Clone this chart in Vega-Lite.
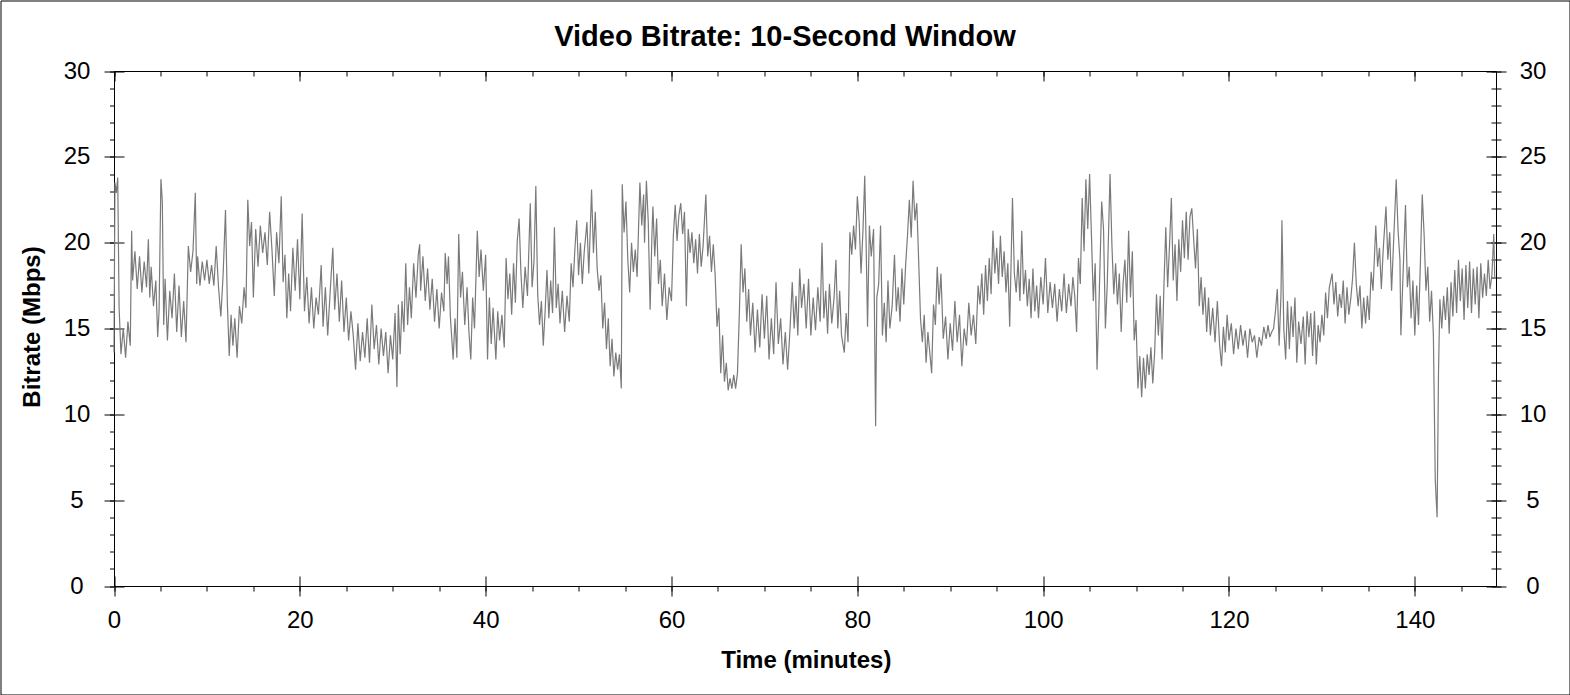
{
  "$schema": "https://vega.github.io/schema/vega-lite/v6.json",
  "description": "Video bitrate over time, 10-second window.",
  "width": 1569,
  "height": 694,
  "autosize": {"type": "none"},
  "padding": {"left": 0.5, "top": 0.5, "right": 0, "bottom": 0},
  "background": "white",
  "title": {
    "text": "Video Bitrate: 10-Second Window",
    "font": "Liberation Sans",
    "fontSize": 29,
    "fontWeight": "bold",
    "color": "black",
    "anchor": "middle",
    "baseline": "alphabetic",
    "offset": -74
  },
  "config": {
    "view": {"stroke": "black", "strokeWidth": 1},
    "axis": {
      "grid": false,
      "domainColor": "black",
      "tickColor": "black",
      "domainWidth": 1,
      "tickWidth": 1,
      "labelFont": "Liberation Sans",
      "labelFontSize": 24,
      "labelColor": "black",
      "labelFlush": false,
      "labelOverlap": false,
      "titleFont": "Liberation Sans",
      "titleFontSize": 24,
      "titleFontWeight": "bold",
      "titleColor": "black"
    }
  },
  "data": {"values": [
    {"t":0.0,"v":13.6},{"t":0.1,"v":23.5},{"t":0.25,"v":22.9},{"t":0.4,"v":23.8},{"t":0.55,"v":16.2},{"t":0.75,"v":13.5},
    {"t":1.0,"v":15.0},{"t":1.25,"v":13.3},{"t":1.5,"v":15.4},{"t":1.75,"v":14.0},{"t":1.9,"v":20.7},
    {"t":2.0,"v":17.8},{"t":2.25,"v":19.5},{"t":2.5,"v":17.3},{"t":2.75,"v":19.2},
    {"t":3.0,"v":17.1},{"t":3.25,"v":18.9},{"t":3.5,"v":17.4},{"t":3.7,"v":20.2},{"t":3.85,"v":16.8},
    {"t":4.0,"v":18.6},{"t":4.25,"v":16.3},{"t":4.5,"v":17.8},{"t":4.7,"v":14.5},{"t":4.85,"v":16.0},
    {"t":5.05,"v":23.7},{"t":5.2,"v":22.4},{"t":5.35,"v":15.2},{"t":5.5,"v":17.9},{"t":5.75,"v":14.3},
    {"t":6.0,"v":17.2},{"t":6.25,"v":15.6},{"t":6.5,"v":18.2},{"t":6.75,"v":14.8},
    {"t":7.0,"v":17.5},{"t":7.25,"v":14.5},{"t":7.5,"v":16.6},{"t":7.75,"v":14.2},
    {"t":8.0,"v":19.8},{"t":8.25,"v":18.3},{"t":8.5,"v":19.5},{"t":8.75,"v":22.9},{"t":8.9,"v":17.6},
    {"t":9.0,"v":19.2},{"t":9.25,"v":17.5},{"t":9.5,"v":18.9},{"t":9.75,"v":17.8},
    {"t":10.0,"v":19.0},{"t":10.25,"v":17.6},{"t":10.5,"v":18.7},{"t":10.75,"v":17.5},
    {"t":11.0,"v":19.8},{"t":11.25,"v":17.4},{"t":11.5,"v":15.7},{"t":11.75,"v":18.2},
    {"t":12.0,"v":21.9},{"t":12.2,"v":16.5},{"t":12.4,"v":13.4},{"t":12.6,"v":15.8},{"t":12.8,"v":14.0},
    {"t":13.0,"v":15.6},{"t":13.25,"v":13.3},{"t":13.5,"v":16.3},{"t":13.75,"v":15.3},
    {"t":14.0,"v":17.4},{"t":14.2,"v":16.2},{"t":14.4,"v":22.5},{"t":14.6,"v":19.8},{"t":14.8,"v":21.2},
    {"t":15.0,"v":16.8},{"t":15.25,"v":20.8},{"t":15.5,"v":18.6},{"t":15.75,"v":21.0},
    {"t":16.0,"v":19.4},{"t":16.25,"v":20.6},{"t":16.5,"v":18.7},{"t":16.75,"v":21.8},
    {"t":17.0,"v":19.6},{"t":17.25,"v":16.9},{"t":17.5,"v":20.6},{"t":17.75,"v":18.8},
    {"t":18.0,"v":22.7},{"t":18.2,"v":17.7},{"t":18.4,"v":19.3},{"t":18.6,"v":15.6},{"t":18.8,"v":18.2},
    {"t":19.0,"v":16.0},{"t":19.25,"v":19.7},{"t":19.5,"v":17.2},{"t":19.75,"v":20.2},
    {"t":20.0,"v":16.7},{"t":20.25,"v":21.7},{"t":20.5,"v":16.0},{"t":20.75,"v":18.0},
    {"t":21.0,"v":15.3},{"t":21.25,"v":17.4},{"t":21.5,"v":15.0},{"t":21.75,"v":16.8},
    {"t":22.0,"v":15.8},{"t":22.3,"v":18.7},{"t":22.5,"v":15.1},{"t":22.75,"v":17.4},
    {"t":23.0,"v":14.6},{"t":23.25,"v":17.0},{"t":23.55,"v":19.7},{"t":23.75,"v":16.1},
    {"t":24.0,"v":18.2},{"t":24.25,"v":15.4},{"t":24.5,"v":17.8},{"t":24.75,"v":14.8},
    {"t":25.0,"v":16.8},{"t":25.25,"v":14.3},{"t":25.5,"v":16.0},{"t":25.75,"v":14.6},
    {"t":26.0,"v":12.6},{"t":26.25,"v":15.3},{"t":26.5,"v":13.1},{"t":26.75,"v":14.8},
    {"t":27.0,"v":13.3},{"t":27.25,"v":15.6},{"t":27.5,"v":13.0},{"t":27.75,"v":16.4},
    {"t":28.0,"v":13.8},{"t":28.25,"v":15.2},{"t":28.5,"v":12.9},{"t":28.75,"v":15.0},
    {"t":29.0,"v":13.4},{"t":29.25,"v":14.8},{"t":29.5,"v":12.4},{"t":29.75,"v":14.6},
    {"t":30.0,"v":13.2},{"t":30.25,"v":15.9},{"t":30.45,"v":11.6},{"t":30.6,"v":16.4},{"t":30.8,"v":13.5},
    {"t":31.0,"v":16.6},{"t":31.2,"v":14.8},{"t":31.4,"v":18.8},{"t":31.6,"v":15.2},{"t":31.8,"v":17.4},
    {"t":32.0,"v":15.6},{"t":32.25,"v":18.8},{"t":32.5,"v":16.8},{"t":32.75,"v":19.3},{"t":32.9,"v":19.9},
    {"t":33.0,"v":17.2},{"t":33.25,"v":19.2},{"t":33.5,"v":16.6},{"t":33.75,"v":18.5},
    {"t":34.0,"v":16.1},{"t":34.25,"v":17.9},{"t":34.5,"v":15.4},{"t":34.75,"v":17.3},
    {"t":35.0,"v":15.0},{"t":35.25,"v":17.1},{"t":35.5,"v":16.0},{"t":35.65,"v":19.4},{"t":35.85,"v":17.6},
    {"t":36.0,"v":19.2},{"t":36.2,"v":15.7},{"t":36.5,"v":13.2},{"t":36.7,"v":15.6},{"t":36.9,"v":13.3},
    {"t":37.1,"v":20.5},{"t":37.3,"v":16.8},{"t":37.5,"v":18.3},{"t":37.75,"v":15.2},
    {"t":38.0,"v":17.4},{"t":38.2,"v":14.8},{"t":38.4,"v":13.2},{"t":38.6,"v":16.8},{"t":38.8,"v":15.0},
    {"t":39.1,"v":20.7},{"t":39.3,"v":18.0},{"t":39.5,"v":19.6},{"t":39.75,"v":17.2},
    {"t":40.0,"v":19.3},{"t":40.2,"v":13.2},{"t":40.4,"v":16.8},{"t":40.6,"v":14.1},{"t":40.8,"v":16.2},
    {"t":41.1,"v":13.2},{"t":41.3,"v":16.0},{"t":41.5,"v":14.3},{"t":41.75,"v":15.8},
    {"t":42.0,"v":13.9},{"t":42.2,"v":19.1},{"t":42.4,"v":16.7},{"t":42.6,"v":18.2},{"t":42.8,"v":15.8},
    {"t":43.0,"v":18.8},{"t":43.2,"v":16.5},{"t":43.4,"v":20.1},{"t":43.6,"v":21.4},{"t":43.8,"v":18.2},
    {"t":44.0,"v":16.2},{"t":44.25,"v":18.6},{"t":44.5,"v":16.9},{"t":44.8,"v":22.3},
    {"t":45.0,"v":17.4},{"t":45.2,"v":18.9},{"t":45.4,"v":23.3},{"t":45.6,"v":17.0},{"t":45.8,"v":15.2},
    {"t":46.0,"v":16.6},{"t":46.2,"v":14.0},{"t":46.4,"v":16.0},{"t":46.6,"v":18.4},{"t":46.8,"v":15.6},
    {"t":47.0,"v":17.8},{"t":47.2,"v":15.9},{"t":47.4,"v":20.9},{"t":47.6,"v":16.2},{"t":47.8,"v":17.6},
    {"t":48.0,"v":15.3},{"t":48.25,"v":17.2},{"t":48.5,"v":14.8},{"t":48.75,"v":16.9},
    {"t":49.0,"v":15.4},{"t":49.2,"v":18.8},{"t":49.4,"v":17.4},{"t":49.6,"v":19.6},{"t":49.8,"v":21.3},
    {"t":50.0,"v":18.1},{"t":50.2,"v":20.0},{"t":50.4,"v":17.6},{"t":50.6,"v":19.4},{"t":50.9,"v":21.2},
    {"t":51.1,"v":18.2},{"t":51.4,"v":23.1},{"t":51.6,"v":19.4},{"t":51.8,"v":21.8},
    {"t":52.0,"v":18.5},{"t":52.2,"v":17.2},{"t":52.4,"v":18.1},{"t":52.6,"v":15.0},{"t":52.8,"v":16.5},
    {"t":53.0,"v":13.8},{"t":53.2,"v":15.6},{"t":53.4,"v":12.8},{"t":53.6,"v":14.4},{"t":53.8,"v":12.2},
    {"t":54.0,"v":13.6},{"t":54.2,"v":12.6},{"t":54.4,"v":13.5},{"t":54.6,"v":11.5},{"t":54.7,"v":23.4},{"t":54.9,"v":20.6},
    {"t":55.1,"v":22.4},{"t":55.3,"v":19.0},{"t":55.5,"v":17.1},{"t":55.7,"v":20.0},{"t":55.9,"v":18.3},
    {"t":56.1,"v":19.6},{"t":56.3,"v":18.0},{"t":56.6,"v":23.5},{"t":56.8,"v":21.0},
    {"t":57.0,"v":22.8},{"t":57.1,"v":20.0},{"t":57.3,"v":23.6},{"t":57.5,"v":21.2},{"t":57.7,"v":16.1},{"t":57.9,"v":20.5},
    {"t":58.0,"v":22.1},{"t":58.2,"v":19.2},{"t":58.4,"v":21.4},{"t":58.6,"v":17.6},{"t":58.8,"v":19.0},
    {"t":59.0,"v":16.3},{"t":59.25,"v":18.2},{"t":59.5,"v":15.5},{"t":59.75,"v":17.4},
    {"t":60.0,"v":16.6},{"t":60.2,"v":20.4},{"t":60.4,"v":22.2},{"t":60.6,"v":20.1},{"t":60.8,"v":21.6},
    {"t":61.0,"v":22.3},{"t":61.2,"v":20.5},{"t":61.4,"v":21.8},{"t":61.6,"v":16.3},{"t":61.8,"v":20.8},
    {"t":62.0,"v":19.4},{"t":62.2,"v":20.6},{"t":62.4,"v":18.8},{"t":62.6,"v":20.2},{"t":62.8,"v":18.2},
    {"t":63.0,"v":20.5},{"t":63.2,"v":18.6},{"t":63.4,"v":19.8},{"t":63.7,"v":22.8},{"t":63.9,"v":19.2},
    {"t":64.1,"v":20.4},{"t":64.3,"v":18.3},{"t":64.5,"v":19.9},{"t":64.7,"v":18.1},{"t":64.9,"v":15.1},
    {"t":65.1,"v":16.2},{"t":65.3,"v":12.4},{"t":65.5,"v":14.6},{"t":65.7,"v":11.9},{"t":65.9,"v":13.0},
    {"t":66.1,"v":11.4},{"t":66.3,"v":12.1},{"t":66.5,"v":11.5},{"t":66.7,"v":12.3},{"t":66.9,"v":11.5},
    {"t":67.1,"v":12.4},{"t":67.3,"v":15.8},{"t":67.5,"v":19.9},{"t":67.7,"v":17.1},{"t":67.9,"v":18.5},
    {"t":68.1,"v":15.4},{"t":68.3,"v":17.3},{"t":68.5,"v":14.6},{"t":68.75,"v":16.5},
    {"t":69.0,"v":13.6},{"t":69.25,"v":16.1},{"t":69.5,"v":13.9},{"t":69.75,"v":17.0},
    {"t":70.0,"v":14.4},{"t":70.25,"v":16.9},{"t":70.5,"v":13.2},{"t":70.75,"v":15.6},
    {"t":71.0,"v":13.5},{"t":71.25,"v":17.7},{"t":71.5,"v":14.1},{"t":71.75,"v":15.6},
    {"t":72.0,"v":12.9},{"t":72.25,"v":14.8},{"t":72.5,"v":12.6},{"t":72.75,"v":14.9},
    {"t":73.0,"v":17.7},{"t":73.2,"v":15.0},{"t":73.4,"v":16.9},{"t":73.6,"v":14.6},{"t":73.8,"v":18.5},
    {"t":74.0,"v":16.2},{"t":74.25,"v":17.6},{"t":74.5,"v":15.0},{"t":74.75,"v":17.9},
    {"t":75.0,"v":14.6},{"t":75.25,"v":16.8},{"t":75.5,"v":14.9},{"t":75.75,"v":17.4},
    {"t":76.0,"v":15.4},{"t":76.2,"v":20.0},{"t":76.4,"v":15.6},{"t":76.6,"v":17.2},{"t":76.8,"v":14.7},
    {"t":77.0,"v":17.6},{"t":77.25,"v":15.3},{"t":77.5,"v":16.8},{"t":77.7,"v":19.0},{"t":77.9,"v":15.0},
    {"t":78.1,"v":17.2},{"t":78.3,"v":14.6},{"t":78.6,"v":13.6},{"t":78.8,"v":15.9},
    {"t":79.0,"v":14.2},{"t":79.2,"v":20.6},{"t":79.4,"v":19.3},{"t":79.6,"v":21.0},{"t":79.8,"v":19.6},
    {"t":80.0,"v":22.7},{"t":80.2,"v":21.2},{"t":80.4,"v":18.2},{"t":80.6,"v":20.6},{"t":80.8,"v":23.9},{"t":80.95,"v":19.9},
    {"t":81.1,"v":15.1},{"t":81.3,"v":21.0},{"t":81.5,"v":19.2},{"t":81.75,"v":20.8},{"t":81.97,"v":9.3},
    {"t":82.1,"v":16.8},{"t":82.3,"v":17.6},{"t":82.5,"v":21.0},{"t":82.7,"v":14.6},{"t":82.9,"v":16.5},
    {"t":83.1,"v":14.2},{"t":83.3,"v":17.8},{"t":83.5,"v":15.0},{"t":83.75,"v":16.3},
    {"t":84.0,"v":19.3},{"t":84.2,"v":16.0},{"t":84.4,"v":17.4},{"t":84.6,"v":15.4},{"t":84.8,"v":18.5},
    {"t":85.0,"v":16.4},{"t":85.2,"v":18.7},{"t":85.4,"v":20.4},{"t":85.6,"v":22.5},{"t":85.8,"v":20.3},
    {"t":86.0,"v":23.6},{"t":86.2,"v":21.3},{"t":86.4,"v":22.3},{"t":86.6,"v":19.0},{"t":86.8,"v":15.6},
    {"t":87.0,"v":14.2},{"t":87.2,"v":15.8},{"t":87.4,"v":13.0},{"t":87.6,"v":14.8},
    {"t":88.0,"v":12.4},{"t":88.2,"v":16.4},{"t":88.4,"v":15.2},{"t":88.6,"v":18.6},{"t":88.8,"v":16.4},
    {"t":89.0,"v":18.2},{"t":89.25,"v":14.4},{"t":89.5,"v":15.7},{"t":89.75,"v":13.2},
    {"t":90.0,"v":15.3},{"t":90.25,"v":13.7},{"t":90.5,"v":16.6},{"t":90.75,"v":14.2},
    {"t":91.0,"v":15.8},{"t":91.25,"v":12.8},{"t":91.5,"v":15.0},{"t":91.75,"v":14.0},
    {"t":92.0,"v":16.5},{"t":92.25,"v":14.6},{"t":92.5,"v":15.8},{"t":92.75,"v":14.1},
    {"t":93.0,"v":17.5},{"t":93.2,"v":16.4},{"t":93.4,"v":18.2},{"t":93.6,"v":15.8},{"t":93.8,"v":18.7},
    {"t":94.0,"v":16.6},{"t":94.2,"v":19.1},{"t":94.4,"v":17.0},{"t":94.6,"v":20.7},{"t":94.8,"v":18.2},
    {"t":95.0,"v":19.7},{"t":95.2,"v":17.6},{"t":95.4,"v":20.4},{"t":95.6,"v":18.0},{"t":95.8,"v":19.5},
    {"t":96.0,"v":17.1},{"t":96.2,"v":18.8},{"t":96.4,"v":15.1},{"t":96.7,"v":22.6},{"t":96.9,"v":18.2},
    {"t":97.1,"v":17.1},{"t":97.3,"v":19.0},{"t":97.5,"v":16.6},{"t":97.7,"v":20.7},{"t":97.9,"v":17.0},
    {"t":98.1,"v":18.4},{"t":98.3,"v":16.3},{"t":98.5,"v":17.9},{"t":98.7,"v":15.6},{"t":98.9,"v":18.5},
    {"t":99.1,"v":16.0},{"t":99.3,"v":17.5},{"t":99.5,"v":15.6},{"t":99.75,"v":18.0},
    {"t":100.0,"v":16.4},{"t":100.25,"v":19.1},{"t":100.5,"v":15.9},{"t":100.75,"v":17.7},
    {"t":101.0,"v":16.2},{"t":101.25,"v":17.6},{"t":101.5,"v":15.4},{"t":101.75,"v":17.3},
    {"t":102.0,"v":16.0},{"t":102.25,"v":18.2},{"t":102.5,"v":15.9},{"t":102.75,"v":17.6},
    {"t":103.0,"v":16.3},{"t":103.2,"v":18.0},{"t":103.4,"v":16.9},{"t":103.6,"v":14.8},{"t":103.8,"v":19.1},
    {"t":104.0,"v":17.6},{"t":104.2,"v":22.6},{"t":104.4,"v":19.5},{"t":104.6,"v":23.7},{"t":104.8,"v":20.8},
    {"t":105.0,"v":24.0},{"t":105.2,"v":20.4},{"t":105.4,"v":16.6},{"t":105.6,"v":18.8},{"t":105.8,"v":12.6},
    {"t":106.0,"v":16.2},{"t":106.3,"v":22.4},{"t":106.5,"v":20.8},{"t":106.7,"v":15.0},{"t":106.9,"v":17.6},
    {"t":107.2,"v":24.0},{"t":107.4,"v":19.9},{"t":107.6,"v":17.0},{"t":107.8,"v":18.8},
    {"t":108.0,"v":16.4},{"t":108.2,"v":18.2},{"t":108.4,"v":14.8},{"t":108.6,"v":17.6},{"t":108.8,"v":19.0},
    {"t":109.0,"v":16.5},{"t":109.2,"v":20.7},{"t":109.4,"v":16.8},{"t":109.6,"v":19.5},{"t":109.8,"v":14.3},
    {"t":110.0,"v":15.5},{"t":110.2,"v":11.5},{"t":110.4,"v":13.4},{"t":110.6,"v":11.0},{"t":110.8,"v":13.3},
    {"t":111.0,"v":11.5},{"t":111.2,"v":13.5},{"t":111.4,"v":12.3},{"t":111.6,"v":13.9},{"t":111.8,"v":11.8},
    {"t":112.0,"v":13.6},{"t":112.2,"v":17.0},{"t":112.4,"v":14.6},{"t":112.6,"v":16.9},{"t":112.8,"v":13.2},
    {"t":113.0,"v":17.5},{"t":113.2,"v":20.9},{"t":113.4,"v":17.4},{"t":113.6,"v":19.8},{"t":113.8,"v":22.6},
    {"t":114.0,"v":17.8},{"t":114.2,"v":19.9},{"t":114.4,"v":16.6},{"t":114.6,"v":20.2},{"t":114.8,"v":18.3},
    {"t":115.0,"v":21.3},{"t":115.2,"v":19.1},{"t":115.4,"v":21.8},{"t":115.6,"v":19.0},{"t":115.8,"v":21.5},
    {"t":116.0,"v":22.0},{"t":116.2,"v":20.2},{"t":116.4,"v":18.5},{"t":116.6,"v":20.8},{"t":116.8,"v":16.3},
    {"t":117.0,"v":18.0},{"t":117.2,"v":15.8},{"t":117.4,"v":17.4},{"t":117.6,"v":14.8},{"t":117.8,"v":16.8},
    {"t":118.0,"v":14.6},{"t":118.25,"v":16.2},{"t":118.5,"v":14.2},{"t":118.75,"v":16.6},
    {"t":119.0,"v":14.0},{"t":119.2,"v":12.8},{"t":119.4,"v":15.1},{"t":119.6,"v":13.6},{"t":119.8,"v":15.8},
    {"t":120.0,"v":14.3},{"t":120.25,"v":15.3},{"t":120.5,"v":13.5},{"t":120.75,"v":15.0},
    {"t":121.0,"v":13.8},{"t":121.25,"v":15.2},{"t":121.5,"v":14.0},{"t":121.75,"v":14.9},
    {"t":122.0,"v":13.3},{"t":122.25,"v":15.0},{"t":122.5,"v":14.2},{"t":122.75,"v":14.6},
    {"t":123.0,"v":13.3},{"t":123.25,"v":14.5},{"t":123.5,"v":14.0},{"t":123.75,"v":15.1},
    {"t":124.0,"v":14.4},{"t":124.2,"v":15.2},{"t":124.4,"v":14.5},{"t":124.6,"v":14.8},{"t":124.8,"v":15.0},
    {"t":125.0,"v":16.0},{"t":125.2,"v":17.3},{"t":125.4,"v":14.0},{"t":125.6,"v":17.0},{"t":125.7,"v":21.3},{"t":125.9,"v":15.0},
    {"t":126.1,"v":13.2},{"t":126.3,"v":16.6},{"t":126.5,"v":13.8},{"t":126.7,"v":16.3},{"t":126.9,"v":14.5},
    {"t":127.1,"v":16.8},{"t":127.3,"v":13.0},{"t":127.5,"v":15.4},{"t":127.75,"v":14.1},
    {"t":128.0,"v":15.7},{"t":128.2,"v":12.9},{"t":128.4,"v":16.0},{"t":128.6,"v":14.5},{"t":128.8,"v":15.9},
    {"t":129.0,"v":13.4},{"t":129.2,"v":16.0},{"t":129.4,"v":12.9},{"t":129.6,"v":15.2},{"t":129.8,"v":14.2},
    {"t":130.0,"v":15.8},{"t":130.2,"v":14.6},{"t":130.4,"v":17.1},{"t":130.6,"v":15.6},{"t":130.8,"v":17.4},
    {"t":131.1,"v":18.2},{"t":131.3,"v":16.4},{"t":131.5,"v":17.7},{"t":131.7,"v":15.7},{"t":131.9,"v":17.0},
    {"t":132.1,"v":16.2},{"t":132.3,"v":17.8},{"t":132.5,"v":15.3},{"t":132.7,"v":17.4},{"t":132.9,"v":15.8},
    {"t":133.1,"v":16.7},{"t":133.3,"v":17.9},{"t":133.5,"v":20.0},{"t":133.7,"v":17.6},{"t":133.9,"v":16.3},
    {"t":134.1,"v":17.5},{"t":134.3,"v":15.0},{"t":134.5,"v":16.8},{"t":134.7,"v":15.3},{"t":134.9,"v":16.9},
    {"t":135.1,"v":15.5},{"t":135.3,"v":18.3},{"t":135.5,"v":17.2},{"t":135.8,"v":21.0},
    {"t":136.0,"v":18.6},{"t":136.2,"v":19.7},{"t":136.4,"v":17.3},{"t":136.6,"v":19.6},{"t":136.9,"v":22.1},
    {"t":137.1,"v":19.0},{"t":137.3,"v":20.6},{"t":137.5,"v":17.2},{"t":137.7,"v":19.8},
    {"t":138.0,"v":23.7},{"t":138.2,"v":20.7},{"t":138.4,"v":19.0},{"t":138.5,"v":14.6},{"t":138.7,"v":17.6},
    {"t":139.0,"v":22.2},{"t":139.2,"v":17.4},{"t":139.4,"v":18.6},{"t":139.6,"v":15.6},{"t":139.8,"v":17.8},
    {"t":140.0,"v":14.6},{"t":140.2,"v":17.5},{"t":140.4,"v":15.2},{"t":140.6,"v":18.8},{"t":140.8,"v":22.8},
    {"t":141.0,"v":20.5},{"t":141.2,"v":17.2},{"t":141.4,"v":18.6},{"t":141.6,"v":15.4},{"t":141.8,"v":17.2},
    {"t":142.0,"v":14.6},{"t":142.2,"v":6.2},{"t":142.4,"v":4.0},{"t":142.55,"v":12.4},{"t":142.7,"v":16.7},{"t":142.9,"v":15.0},
    {"t":143.1,"v":16.9},{"t":143.3,"v":15.5},{"t":143.5,"v":17.4},{"t":143.7,"v":14.7},{"t":143.9,"v":17.7},
    {"t":144.1,"v":15.7},{"t":144.3,"v":18.4},{"t":144.5,"v":15.9},{"t":144.7,"v":19.0},{"t":144.9,"v":16.6},
    {"t":145.1,"v":18.5},{"t":145.3,"v":15.5},{"t":145.5,"v":18.7},{"t":145.7,"v":16.2},{"t":145.9,"v":18.9},
    {"t":146.1,"v":15.9},{"t":146.3,"v":18.5},{"t":146.5,"v":16.4},{"t":146.7,"v":18.6},{"t":146.9,"v":15.6},
    {"t":147.1,"v":18.8},{"t":147.3,"v":16.8},{"t":147.5,"v":18.2},{"t":147.7,"v":16.9},{"t":147.9,"v":19.0},
    {"t":148.1,"v":17.3},{"t":148.3,"v":18.1},{"t":148.5,"v":20.5},{"t":148.6,"v":18.0}
  ]},
  "layer": [
    {
      "mark": {"type": "line", "color": "#7a7a7a", "strokeWidth": 1.2, "clip": true},
      "encoding": {
        "x": {
          "field": "t", "type": "quantitative",
          "scale": {"domain": [0, 148.75], "range": [113.5, 1495.6], "nice": false, "zero": false},
          "axis": {
            "orient": "bottom", "offset": -108.5, "values": [0, 20, 40, 60, 80, 100, 120, 140],
            "tickSize": 10, "labelPadding": 12.5, "domain": true,
            "title": "Time (minutes)", "titleX": 805.3, "titleY": 81.7,
            "titleAlign": "center", "titleBaseline": "alphabetic"
          }
        },
        "y": {
          "field": "v", "type": "quantitative",
          "scale": {"domain": [0, 30], "range": [585.5, 70.5], "nice": false, "zero": false},
          "axis": {
            "orient": "left", "offset": -113.5, "values": [0, 5, 10, 15, 20, 25, 30],
            "tickSize": 10, "labelPadding": 27.5, "labelAlign": "center", "labelBaseline": "middle",
            "domain": true,
            "title": "Bitrate (Mbps)", "titleX": -74.7, "titleY": 326, "titleAngle": -90,
            "titleAlign": "center", "titleBaseline": "alphabetic"
          }
        }
      }
    },
    {
      "mark": {"type": "line", "opacity": 0},
      "encoding": {
        "x": {"field": "t", "type": "quantitative",
          "axis": {"orient": "bottom", "offset": -118.5, "values": [0, 20, 40, 60, 80, 100, 120, 140],
            "tickSize": 10, "domain": false, "labels": false, "title": null}},
        "y": {"field": "v", "type": "quantitative",
          "axis": {"orient": "left", "offset": -123.5, "values": [0, 5, 10, 15, 20, 25, 30],
            "tickSize": 10, "domain": false, "labels": false, "title": null}}
      }
    },
    {
      "mark": {"type": "line", "opacity": 0},
      "encoding": {
        "x": {"field": "t", "type": "quantitative",
          "axis": {"orient": "bottom", "offset": -108.5,
            "values": [0, 5, 10, 15, 20, 25, 30, 35, 40, 45, 50, 55, 60, 65, 70, 75, 80, 85, 90, 95, 100, 105, 110, 115, 120, 125, 130, 135, 140, 145],
            "tickSize": 5, "domain": false, "labels": false, "title": null}},
        "y": {"field": "v", "type": "quantitative",
          "axis": {"orient": "left", "offset": -113.5,
            "values": [0, 1, 2, 3, 4, 5, 6, 7, 8, 9, 10, 11, 12, 13, 14, 15, 16, 17, 18, 19, 20, 21, 22, 23, 24, 25, 26, 27, 28, 29, 30],
            "tickSize": 4.5, "domain": false, "labels": false, "title": null}}
      }
    },
    {
      "mark": {"type": "line", "opacity": 0},
      "encoding": {
        "x": {"field": "t", "type": "quantitative",
          "axis": {"orient": "top", "offset": -70.5, "ticks": false, "domain": true, "labels": false, "title": null}},
        "y": {"field": "v", "type": "quantitative",
          "axis": {"orient": "right", "offset": -73.5, "values": [0, 5, 10, 15, 20, 25, 30],
            "tickSize": 10, "labelPadding": 26.5, "labelAlign": "center", "labelBaseline": "middle",
            "domain": true, "title": null}}
      }
    },
    {
      "mark": {"type": "line", "opacity": 0},
      "encoding": {
        "x": {"field": "t", "type": "quantitative",
          "axis": {"orient": "top", "offset": -80.5, "values": [0, 20, 40, 60, 80, 100, 120, 140],
            "tickSize": 10, "domain": false, "labels": false, "title": null}},
        "y": {"field": "v", "type": "quantitative",
          "axis": {"orient": "right", "offset": -83.5, "values": [0, 5, 10, 15, 20, 25, 30],
            "tickSize": 10, "domain": false, "labels": false, "title": null}}
      }
    },
    {
      "mark": {"type": "line", "opacity": 0},
      "encoding": {
        "x": {"field": "t", "type": "quantitative",
          "axis": {"orient": "top", "offset": -75.5,
            "values": [0, 5, 10, 15, 20, 25, 30, 35, 40, 45, 50, 55, 60, 65, 70, 75, 80, 85, 90, 95, 100, 105, 110, 115, 120, 125, 130, 135, 140, 145],
            "tickSize": 5, "domain": false, "labels": false, "title": null}},
        "y": {"field": "v", "type": "quantitative",
          "axis": {"orient": "right", "offset": -78.5,
            "values": [0, 1, 2, 3, 4, 5, 6, 7, 8, 9, 10, 11, 12, 13, 14, 15, 16, 17, 18, 19, 20, 21, 22, 23, 24, 25, 26, 27, 28, 29, 30],
            "tickSize": 10, "domain": false, "labels": false, "title": null}}
      }
    }
  ],
  "resolve": {"axis": {"x": "independent", "y": "independent"}}
}
